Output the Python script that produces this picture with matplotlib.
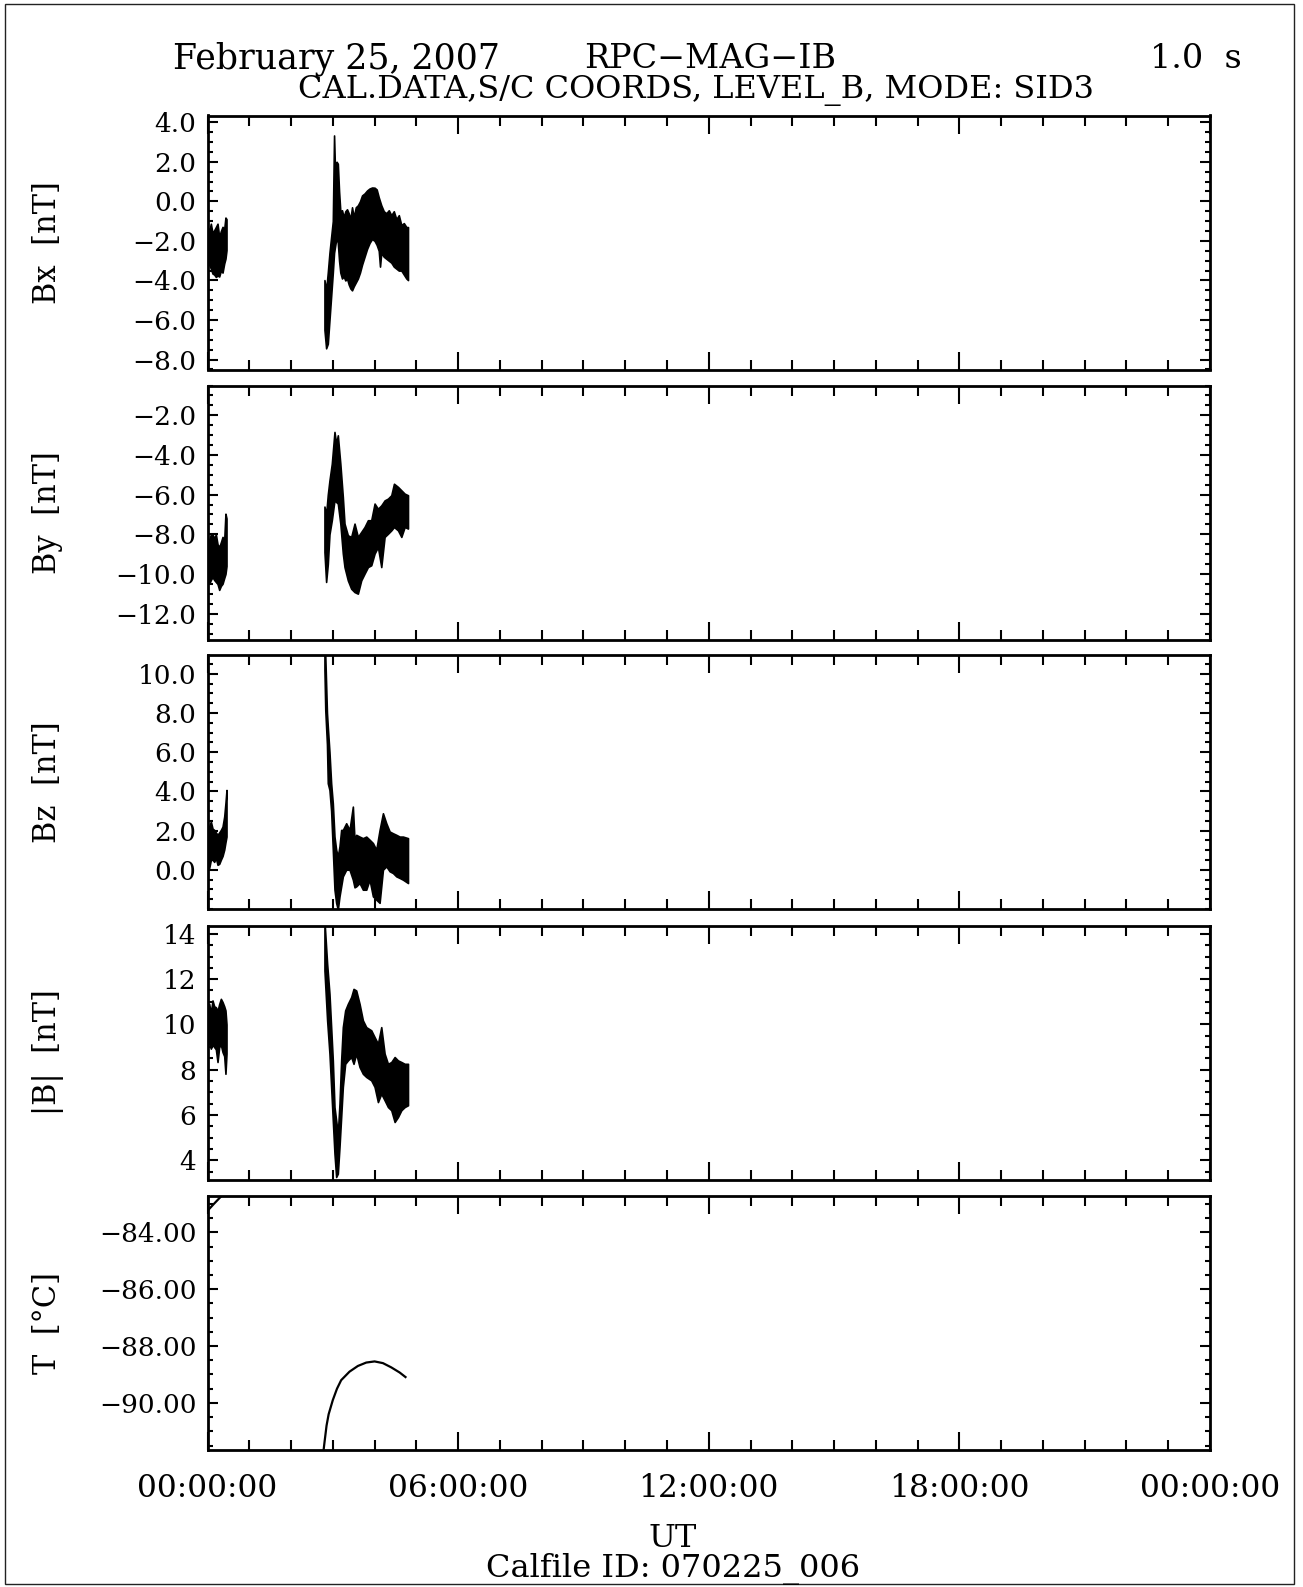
import matplotlib
matplotlib.use("Agg")
import matplotlib.pyplot as plt
from matplotlib.ticker import FixedLocator, MultipleLocator, FuncFormatter
from matplotlib.patches import Rectangle

# ---------------- data (hours UT) ----------------
seg1_t = [0.0, 0.04, 0.08, 0.12, 0.16, 0.20, 0.24, 0.28, 0.32, 0.36, 0.40, 0.43, 0.455]

bx1_hi = [-1.3, -1.5, -1.13, -1.6, -1.46, -1.3, -1.13, -1.8, -1.5, -1.29, -1.4, -0.82, -0.9]
bx1_lo = [-2.6, -3.2, -3.4, -3.65, -3.7, -3.82, -3.75, -3.8, -3.5, -3.6, -3.14, -2.9, -2.47]

bx2_t = [2.80, 2.84, 2.88, 2.92, 2.96, 3.00, 3.03, 3.06, 3.09, 3.12, 3.15, 3.18, 3.22, 3.26,
         3.30, 3.34, 3.38, 3.42, 3.46, 3.50, 3.55, 3.60, 3.65, 3.70, 3.76, 3.82, 3.88, 3.94,
         4.00, 4.05, 4.10, 4.13, 4.16, 4.22, 4.28, 4.34, 4.40, 4.46, 4.52, 4.58, 4.64, 4.70,
         4.76, 4.80]
bx2_hi = [-3.98, -4.5, -3.6, -2.6, -1.8, -1.0, 3.33, 1.0, 2.0, 1.9, 0.5, -0.5, -0.45, -0.8,
          -0.5, -0.4, -0.6, -0.9, -0.3, -0.8, -0.3, -0.2, 0.0, 0.3, 0.4, 0.55, 0.65, 0.7,
          0.69, 0.6, 0.2, 0.0, -0.2, -0.5, -0.6, -0.45, -0.7, -0.5, -0.9, -0.7, -1.2, -1.1,
          -1.3, -1.3]
bx2_lo = [-6.5, -7.43, -7.2, -6.0, -4.8, -3.6, -2.6, -2.2, -1.8, -2.1, -3.0, -3.6, -3.9, -3.8,
          -4.0, -3.9, -4.2, -4.4, -4.5, -4.3, -4.1, -3.9, -3.6, -3.2, -2.8, -2.4, -2.1, -1.9,
          -2.0, -2.2, -2.5, -3.3, -2.6, -2.8, -2.9, -3.0, -3.1, -3.3, -3.4, -3.5, -3.5, -3.7,
          -3.9, -3.98]

by1_hi = [-8.47, -8.3, -8.0, -8.0, -8.2, -8.0, -8.5, -8.64, -8.4, -8.13, -8.3, -6.96, -7.2]
by1_lo = [-9.98, -10.49, -10.3, -10.15, -10.3, -10.4, -10.5, -10.8, -10.6, -10.49, -10.2, -10.0, -9.6]

by2_t = [2.80, 2.84, 2.88, 2.92, 2.976, 3.04, 3.08, 3.12, 3.18, 3.24, 3.28, 3.36, 3.44, 3.52,
         3.60, 3.68, 3.76, 3.84, 3.92, 4.00, 4.08, 4.16, 4.24, 4.32, 4.40, 4.464, 4.56, 4.64,
         4.72, 4.80]
by2_hi = [-6.6, -7.0, -6.0, -5.28, -4.44, -2.84, -3.43, -3.01, -4.44, -6.12, -7.46, -8.05, -8.13, -7.46,
          -8.13, -7.88, -7.63, -7.29, -7.29, -6.45, -6.71, -6.54, -6.29, -6.20, -6.03, -5.45, -5.61, -5.78,
          -5.95, -6.03]
by2_lo = [-8.9, -10.4, -9.5, -8.0, -7.29, -6.29, -6.37, -6.45, -7.46, -8.97, -9.65, -10.32, -10.74, -10.91,
          -10.99, -10.32, -9.98, -9.65, -9.56, -8.97, -8.64, -9.65, -8.13, -7.97, -7.80, -7.63, -7.80, -8.13,
          -7.63, -7.71]

bz1_hi = [1.6, 2.2, 2.46, 2.1, 2.03, 1.9, 1.78, 1.9, 2.03, 2.2, 2.71, 3.4, 4.07]
bz1_lo = [0.2, 0.08, 0.5, 0.51, 0.4, 0.6, 0.25, 0.3, 0.51, 0.7, 1.02, 1.4, 1.69]

bz2_t = [2.80, 2.82, 2.86, 2.88, 2.92, 2.96, 3.00, 3.04, 3.08, 3.12, 3.16, 3.20, 3.24, 3.32,
         3.40, 3.48, 3.52, 3.56, 3.64, 3.72, 3.80, 3.88, 3.96, 4.04, 4.12, 4.20, 4.28, 4.36,
         4.44, 4.52, 4.60, 4.68, 4.80]
bz2_hi = [11.2, 10.9, 8.0, 7.29, 6.0, 4.41, 3.39, 1.69, 1.02, 0.68, 1.19, 2.03, 2.03, 2.37,
          2.03, 3.22, 1.5, 1.78, 1.69, 1.61, 1.69, 1.53, 1.36, 1.02, 2.03, 2.88, 2.37, 1.95,
          1.86, 1.78, 1.69, 1.69, 1.61]
bz2_lo = [10.2, 8.14, 6.4, 4.41, 4.07, 3.0, 1.02, -1.02, -1.69, -2.03, -1.36, -0.85, -0.34, 0.0,
          0.0, -0.51, -0.9, -0.85, -0.68, -1.02, -1.02, -0.51, -1.36, -1.53, -1.69, 0.0, 0.17, -0.08,
          -0.17, -0.34, -0.42, -0.51, -0.68]

bm1_hi = [10.69, 10.91, 10.5, 11.06, 10.8, 10.76, 10.6, 10.9, 11.13, 10.99, 10.8, 10.62, 10.0]
bm1_lo = [9.3, 9.15, 8.93, 9.1, 9.0, 8.9, 8.34, 9.0, 9.1, 8.78, 8.6, 7.82, 8.71]

bm2_t = [2.80, 2.864, 2.92, 2.96, 3.00, 3.04, 3.08, 3.12, 3.16, 3.20, 3.24, 3.296, 3.36, 3.44,
         3.496, 3.56, 3.64, 3.72, 3.80, 3.92, 4.00, 4.08, 4.16, 4.24, 4.32, 4.40, 4.48, 4.56,
         4.64, 4.72, 4.80]
bm2_hi = [14.6, 12.68, 11.35, 9.88, 8.41, 6.35, 5.76, 5.18, 6.5, 8.41, 9.88, 10.62, 10.91, 11.21,
          11.57, 11.5, 10.91, 10.18, 9.88, 9.74, 9.44, 9.15, 9.88, 8.71, 8.26, 8.34, 8.56, 8.41,
          8.34, 8.26, 8.26]
bm2_lo = [12.38, 10.18, 8.71, 7.24, 5.76, 4.29, 3.26, 3.41, 4.59, 5.91, 7.24, 8.26, 8.41, 8.56,
          8.26, 8.71, 8.12, 7.82, 7.68, 7.53, 7.24, 6.57, 6.94, 6.65, 6.35, 6.21, 5.69, 5.91,
          6.21, 6.35, 6.43]

temp1_t = [0.0, 0.15, 0.30, 0.45]
temp1_v = [-83.24, -83.0, -82.77, -82.55]
temp2_t = [2.76, 2.80, 2.85, 2.90, 3.00, 3.10, 3.20, 3.40, 3.60, 3.80, 4.00, 4.20, 4.40, 4.60, 4.74]
temp2_v = [-91.9, -91.4, -90.8, -90.4, -89.9, -89.5, -89.2, -88.9, -88.7, -88.58, -88.54, -88.6,
           -88.75, -88.93, -89.09]

ylabels = ["Bx  [nT]", "By  [nT]", "Bz  [nT]", "|B|  [nT]", "T  [°C]"]
ylims = [(-8.5, 4.34), (-13.3, -0.5), (-2.03, 10.93), (3.15, 14.37), (-91.64, -82.7)]
yticks = [[-8, -6, -4, -2, 0, 2, 4],
          [-12, -10, -8, -6, -4, -2],
          [0, 2, 4, 6, 8, 10],
          [4, 6, 8, 10, 12, 14],
          [-90, -88, -86, -84]]
yfmts = ["%.1f", "%.1f", "%.1f", "%d", "%.2f"]
xticks = [0, 6, 12, 18, 24]
xticklabels = ["00:00:00", "06:00:00", "12:00:00", "18:00:00", "00:00:00"]

# ---------------- figure ----------------
plt.rcParams["font.family"] = ["DejaVu Serif"]
W, H = 1303, 1587
fig = plt.figure(figsize=(W / 100, H / 100), dpi=100)

left_px, right_px = 207.5, 1210.0
tops = [115.5, 385.5, 655.5, 925.5, 1195.5]
ph = 254.0

axes = []
for i, top in enumerate(tops):
    ax = fig.add_axes([left_px / W, 1 - (top + ph) / H, (right_px - left_px) / W, ph / H])
    axes.append(ax)
    ax.set_xlim(0, 24)
    ax.set_ylim(*ylims[i])
    for s in ax.spines.values():
        s.set_linewidth(2.0)
    ax.xaxis.set_major_locator(FixedLocator(xticks))
    ax.xaxis.set_minor_locator(MultipleLocator(1))
    ax.yaxis.set_major_locator(FixedLocator(yticks[i]))
    ax.yaxis.set_minor_locator(MultipleLocator(0.5))
    fmt = yfmts[i]
    ax.yaxis.set_major_formatter(FuncFormatter(lambda v, p, f=fmt: (f % v).replace("-", "\u2212")))
    ax.tick_params(axis="both", which="both", direction="in", top=True, right=True, width=1.5)
    ax.tick_params(axis="x", which="major", length=13)
    ax.tick_params(axis="x", which="minor", length=7)
    ax.tick_params(axis="y", which="major", length=7, labelsize=19, pad=8)
    ax.tick_params(axis="y", which="minor", length=3.6)
    if i < 4:
        ax.tick_params(axis="x", labelbottom=False)
    else:
        ax.set_xticklabels(xticklabels)
        ax.tick_params(axis="x", which="major", labelsize=22.5, pad=17)
    fig.text(47.6 / W, 1 - (top + ph / 2) / H, ylabels[i], rotation=90,
             ha="center", va="center", fontsize=22)

bands = [
    [(seg1_t, bx1_lo, bx1_hi), (bx2_t, bx2_lo, bx2_hi)],
    [(seg1_t, by1_lo, by1_hi), (by2_t, by2_lo, by2_hi)],
    [(seg1_t, bz1_lo, bz1_hi), (bz2_t, bz2_lo, bz2_hi)],
    [(seg1_t, bm1_lo, bm1_hi), (bm2_t, bm2_lo, bm2_hi)],
]
for ax, segs in zip(axes[:4], bands):
    for t, lo, hi in segs:
        ax.fill_between(t, lo, hi, facecolor="black", edgecolor="black", linewidth=1.2)

axes[4].plot(temp1_t, temp1_v, color="black", linewidth=1.6)
axes[4].plot(temp2_t, temp2_v, color="black", linewidth=1.6)

# ---------------- texts ----------------
fig.text(173 / W, 1 - 68.3 / H, "February 25, 2007", ha="left", va="baseline", fontsize=25)
fig.text(584 / W, 1 - 68.3 / H, "RPC\u2212MAG\u2212IB", ha="left", va="baseline", fontsize=24)
fig.text(1150 / W, 1 - 68.3 / H, "1.0  s", ha="left", va="baseline", fontsize=24)
fig.text(696 / W, 1 - 98.3 / H, "CAL.DATA,S/C COORDS, LEVEL_B, MODE: SID3",
         ha="center", va="baseline", fontsize=23)
fig.text(673 / W, 1 - 1546.7 / H, "UT", ha="center", va="baseline", fontsize=23)
fig.text(673 / W, 1 - 1576.7 / H, "Calfile ID: 070225_006", ha="center", va="baseline", fontsize=23)

fig.patches.append(Rectangle((5 / W, 3 / H), 1289 / W, 1580 / H, transform=fig.transFigure,
                             fill=False, edgecolor="#222222", linewidth=1.0))

fig.savefig("out.png", dpi=100)
